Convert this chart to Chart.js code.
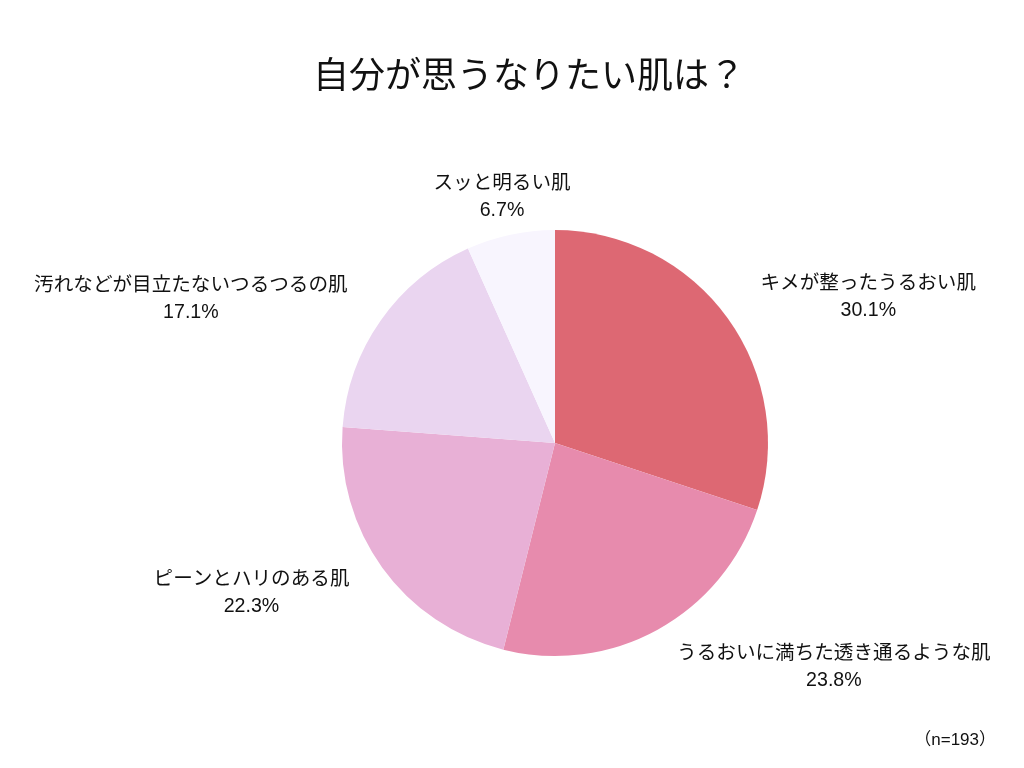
<!DOCTYPE html>
<html>
<head>
<meta charset="utf-8">
<script src="https://cdn.jsdelivr.net/npm/chart.js@4/dist/chart.umd.min.js"></script>
<style>
  html, body { margin: 0; padding: 0; background: #fff; }
  #wrap { width: 1024px; height: 768px; position: relative; }
</style>
</head>
<body>
<div id="wrap"><canvas id="pie" width="1024" height="768"></canvas></div>
<script>
// chart data
const titleText = '自分が思うなりたい肌は？';
const noteText = '（n=193）';
const categories = [
    'キメが整ったうるおい肌',
    'うるおいに満ちた透き通るような肌',
    'ピーンとハリのある肌',
    '汚れなどが目立たないつるつるの肌',
    'スッと明るい肌'
];
const shares = [30.1, 23.8, 22.3, 17.1, 6.7];
const sliceColors = ['#dd6873', '#e78bad', '#e8b0d6', '#ead5f0', '#f8f5fe'];

const fontFamily = '"Liberation Sans", "Noto Sans CJK JP", sans-serif';

// draws title, note and outside labels
const labelPlugin = {
    id: 'outsideLabels',
    afterDraw(chart) {
        const ctx = chart.ctx;
        ctx.save();
        ctx.fillStyle = '#111';
        ctx.textBaseline = 'middle';

        ctx.font = '36px ' + fontFamily;
        ctx.textAlign = 'center';
        ctx.fillText(titleText, 529, 78);

        ctx.font = '17px ' + fontFamily;
        ctx.textAlign = 'right';
        ctx.fillText(noteText, 996, 740);

        ctx.font = '19.6px ' + fontFamily;
        const meta = chart.getDatasetMeta(0);
        meta.data.forEach((arc, i) => {
            const mid = (arc.startAngle + arc.endAngle) / 2;
            const d = arc.outerRadius * 1.19;
            const s = Math.sin(mid);
            const c = Math.cos(mid);
            const ax = arc.x + c * d;
            const ay = arc.y + s * d + 2;
            const line1 = categories[i];
            const line2 = shares[i].toFixed(1) + '%';
            const w = Math.max(ctx.measureText(line1).width, ctx.measureText(line2).width);
            let cx = ax;
            if (c > 0.3) cx = ax + w / 2;
            else if (c < -0.3) cx = ax - w / 2;
            ctx.textAlign = 'center';
            ctx.fillText(line1, cx, ay - 13.5);
            ctx.fillText(line2, cx, ay + 13.5);
        });
        ctx.restore();
    }
};

new Chart(document.getElementById('pie'), {
    type: 'pie',
    data: {
        labels: categories,
        datasets: [{
            data: shares,
            backgroundColor: sliceColors,
            borderWidth: 0
        }]
    },
    options: {
        responsive: false,
        animation: false,
        layout: { padding: { left: 342, right: 256, top: 230, bottom: 112 } },
        plugins: {
            legend: { display: false },
            title: { display: false },
            tooltip: { enabled: false }
        }
    },
    plugins: [labelPlugin]
});
</script>
</body>
</html>
